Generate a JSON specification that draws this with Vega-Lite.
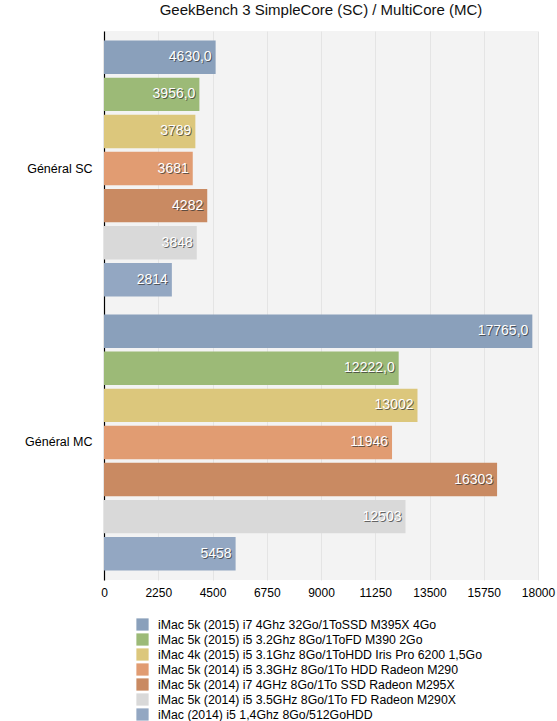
{
  "$schema": "https://vega.github.io/schema/vega-lite/v6.json",
  "autosize": {"type": "none"},
  "width": 434,
  "height": 549,
  "padding": {"left": 104, "top": 31, "right": 19, "bottom": 141},
  "background": "white",
  "title": {"text": "GeekBench 3 SimpleCore (SC) / MultiCore (MC)", "font": "Liberation Sans", "fontSize": 15, "fontWeight": "normal", "color": "#111", "offset": 13, "anchor": "middle"},
  "config": {
    "font": "Liberation Sans",
    "view": {"fill": "#f3f3f3", "stroke": null}
  },
  "data": {"values": [
    {"group": "Général SC", "model": "iMac 5k (2015) i7 4Ghz 32Go/1ToSSD M395X 4Go", "score": 4630, "label": "4630,0"},
    {"group": "Général SC", "model": "iMac 5k (2015) i5 3.2Ghz 8Go/1ToFD M390 2Go", "score": 3956, "label": "3956,0"},
    {"group": "Général SC", "model": "iMac 4k (2015) i5 3.1Ghz 8Go/1ToHDD Iris Pro 6200 1,5Go", "score": 3789, "label": "3789"},
    {"group": "Général SC", "model": "iMac 5k (2014) i5 3.3GHz 8Go/1To HDD Radeon M290", "score": 3681, "label": "3681"},
    {"group": "Général SC", "model": "iMac 5k (2014) i7 4GHz 8Go/1To SSD Radeon M295X", "score": 4282, "label": "4282"},
    {"group": "Général SC", "model": "iMac 5k (2014) i5 3.5GHz 8Go/1To FD Radeon M290X", "score": 3848, "label": "3848"},
    {"group": "Général SC", "model": "iMac (2014) i5 1,4Ghz 8Go/512GoHDD", "score": 2814, "label": "2814"},
    {"group": "Général MC", "model": "iMac 5k (2015) i7 4Ghz 32Go/1ToSSD M395X 4Go", "score": 17765, "label": "17765,0"},
    {"group": "Général MC", "model": "iMac 5k (2015) i5 3.2Ghz 8Go/1ToFD M390 2Go", "score": 12222, "label": "12222,0"},
    {"group": "Général MC", "model": "iMac 4k (2015) i5 3.1Ghz 8Go/1ToHDD Iris Pro 6200 1,5Go", "score": 13002, "label": "13002"},
    {"group": "Général MC", "model": "iMac 5k (2014) i5 3.3GHz 8Go/1To HDD Radeon M290", "score": 11946, "label": "11946"},
    {"group": "Général MC", "model": "iMac 5k (2014) i7 4GHz 8Go/1To SSD Radeon M295X", "score": 16303, "label": "16303"},
    {"group": "Général MC", "model": "iMac 5k (2014) i5 3.5GHz 8Go/1To FD Radeon M290X", "score": 12503, "label": "12503"},
    {"group": "Général MC", "model": "iMac (2014) i5 1,4Ghz 8Go/512GoHDD", "score": 5458, "label": "5458"}
  ]},
  "encoding": {
    "y": {"field": "group", "type": "nominal", "sort": ["Général SC", "Général MC"],
      "scale": {"paddingInner": 0.066, "paddingOuter": 0.035},
      "axis": {"title": null, "domain": true, "domainColor": "#000", "domainWidth": 1.2, "ticks": false, "labelFontSize": 12.5, "labelColor": "#000", "labelPadding": 12, "grid": false}},
    "yOffset": {"field": "model", "type": "nominal", "sort": null,
      "scale": {"paddingInner": 0.1, "paddingOuter": 0}},
    "x": {"field": "score", "type": "quantitative",
      "scale": {"domain": [0, 18000], "nice": false},
      "axis": {"title": null, "values": [0, 2250, 4500, 6750, 9000, 11250, 13500, 15750, 18000], "format": "d", "domain": false, "ticks": false, "labelFontSize": 12, "labelColor": "#000", "labelPadding": 7, "gridColor": "#e4e4e4", "gridWidth": 1, "labelFlush": false}}
  },
  "layer": [
    {
      "mark": {"type": "bar"},
      "encoding": {
        "color": {"field": "model", "type": "nominal",
          "scale": {
            "domain": [
              "iMac 5k (2015) i7 4Ghz 32Go/1ToSSD M395X 4Go",
              "iMac 5k (2015) i5 3.2Ghz 8Go/1ToFD M390 2Go",
              "iMac 4k (2015) i5 3.1Ghz 8Go/1ToHDD Iris Pro 6200 1,5Go",
              "iMac 5k (2014) i5 3.3GHz 8Go/1To HDD Radeon M290",
              "iMac 5k (2014) i7 4GHz 8Go/1To SSD Radeon M295X",
              "iMac 5k (2014) i5 3.5GHz 8Go/1To FD Radeon M290X",
              "iMac (2014) i5 1,4Ghz 8Go/512GoHDD"
            ],
            "range": ["#8aa0bb", "#9cba77", "#dcc77c", "#e19c72", "#c98a62", "#d9d9d9", "#93a7c2"]
          },
          "legend": {"title": null, "orient": "none", "legendX": 32, "legendY": 587, "direction": "vertical", "symbolType": "square", "symbolSize": 150, "symbolStrokeWidth": 0, "labelFontSize": 12.3, "labelColor": "#000", "rowPadding": 2, "labelOffset": 9, "labelLimit": 400}}
      }
    },
    {
      "mark": {"type": "text", "align": "right", "baseline": "middle", "dx": -3, "dy": 1, "fontSize": 14, "color": "#333", "opacity": 0.7},
      "encoding": {"text": {"field": "label"}}
    },
    {
      "mark": {"type": "text", "align": "right", "baseline": "middle", "dx": -4, "dy": 0, "fontSize": 14, "color": "#ffffff"},
      "encoding": {"text": {"field": "label"}}
    }
  ]
}
